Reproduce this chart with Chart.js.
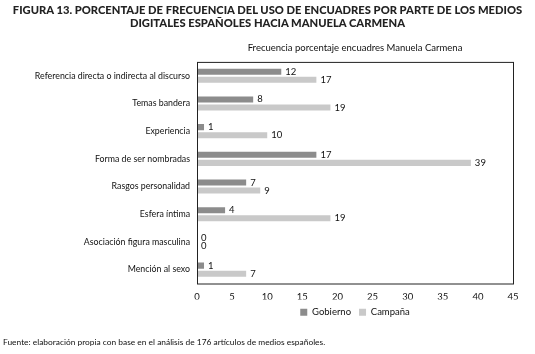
<!DOCTYPE html>
<html>
<head>
<meta charset="utf-8">
<script src="https://cdn.jsdelivr.net/npm/chart.js@4.4.1/dist/chart.umd.min.js"></script>
<style>
  body { margin: 0; background: #fff; }
  #wrap { position: relative; width: 535px; height: 354px; }
  #heading {
    position: absolute; left: 0; top: 3px; width: 535px; white-space: nowrap;
    text-align: center; font-family: Lato, sans-serif; font-weight: 900;
    font-size: 11.2px; line-height: 13px; color: #222;
  }
  #source {
    position: absolute; left: 3px; top: 337px;
    font-family: Lato, sans-serif; font-size: 8.4px; color: #111;
  }
  canvas { position: absolute; left: 0; top: 0; }
</style>
</head>
<body>
<div id="wrap">
  <canvas id="barChart" width="535" height="354"></canvas>
  <div id="heading">FIGURA 13. PORCENTAJE DE FRECUENCIA DEL USO DE ENCUADRES POR PARTE DE LOS MEDIOS<br>DIGITALES ESPAÑOLES HACIA MANUELA CARMENA</div>
  <div id="source">Fuente: elaboración propia con base en el análisis de 176 artículos de medios españoles.</div>
</div>
<script>
const categories = [
  'Referencia directa o indirecta al discurso',
  'Temas bandera',
  'Experiencia',
  'Forma de ser nombradas',
  'Rasgos personalidad',
  'Esfera íntima',
  'Asociación figura masculina',
  'Mención al sexo'
];
const gobierno = [12, 8, 1, 17, 7, 4, 0, 1];
const campana = [17, 19, 10, 39, 9, 19, 0, 7];
const xTicks = [0, 5, 10, 15, 20, 25, 30, 35, 40, 45];

const font = 'Lato, sans-serif';

// frame around the plot + value labels at bar ends
const extras = {
  id: 'extras',
  afterDatasetsDraw(chart) {
    const { ctx, chartArea: a } = chart;
    ctx.save();
    ctx.strokeStyle = '#222';
    ctx.lineWidth = 1;
    ctx.strokeRect(a.left + 0.5, a.top + 0.5, a.right - a.left, a.bottom - a.top);
    ctx.fillStyle = '#111';
    ctx.font = '9.5px ' + font;
    ctx.textBaseline = 'middle';
    chart.data.datasets.forEach((ds, i) => {
      chart.getDatasetMeta(i).data.forEach((bar, j) => {
        ctx.fillText(String(ds.data[j]), bar.x + 4, bar.y);
      });
    });
    ctx.restore();
  }
};

const ctxBar = document.getElementById('barChart').getContext('2d');

const barChart = new Chart(ctxBar, {
  type: 'bar',
  data: {
    labels: categories,
    datasets: [{
      label: 'Gobierno',
      data: gobierno,
      backgroundColor: '#8c8c8c',
      categoryPercentage: 0.58,
      barPercentage: 0.75,
    }, {
      label: 'Campaña',
      data: campana,
      backgroundColor: '#c9c9c9',
      categoryPercentage: 0.58,
      barPercentage: 0.75,
    }]
  },
  options: {
    indexAxis: 'y',
    responsive: false,
    animation: false,
    layout: { padding: { top: 42, right: 22, bottom: 27, left: 0 } },
    plugins: {
      title: {
        display: true,
        fullSize: false,
        text: 'Frecuencia porcentaje encuadres Manuela Carmena',
        color: '#111',
        font: { family: font, size: 9.5, weight: 'normal' },
        padding: { top: 0, bottom: 8.5 }
      },
      legend: {
        position: 'bottom',
        fullSize: false,
        labels: {
          boxWidth: 7, boxHeight: 7, padding: 8,
          color: '#111',
          font: { family: font, size: 9.5 }
        }
      },
      tooltip: { enabled: false }
    },
    scales: {
      x: {
        min: 0,
        max: 45,
        afterBuildTicks: (scale) => { scale.ticks = xTicks.map(v => ({ value: v })); },
        afterFit: (scale) => { scale.height = 16; },
        grid: { display: false, drawTicks: false },
        border: { display: false },
        ticks: { color: '#111', padding: 8, font: { family: font, size: 9.5 } }
      },
      y: {
        afterFit: (scale) => { scale.width = 197; },
        grid: { display: false, drawTicks: false },
        border: { display: false },
        ticks: { color: '#111', padding: 7, font: { family: font, size: 8.8 } }
      }
    }
  },
  plugins: [extras]
});
</script>
</body>
</html>
